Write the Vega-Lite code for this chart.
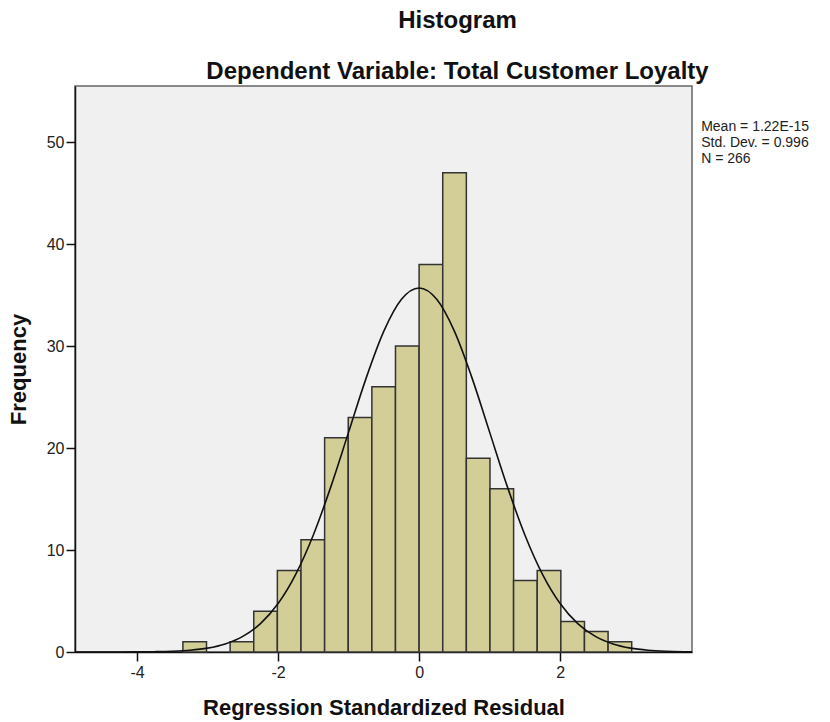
{
  "$schema": "https://vega.github.io/schema/vega-lite/v6.json",
  "autosize": "none",
  "width": 617,
  "height": 566,
  "padding": {"left": 75, "top": 86, "right": 138, "bottom": 70},
  "background": "white",
  "title": {
    "text": "Histogram",
    "subtitle": "Dependent Variable: Total Customer Loyalty",
    "anchor": "middle",
    "frame": "group",
    "dx": 74,
    "offset": 2,
    "font": "Liberation Sans",
    "fontSize": 24,
    "fontWeight": "bold",
    "color": "#111",
    "subtitleFont": "Liberation Sans",
    "subtitleFontSize": 24,
    "subtitleFontWeight": "bold",
    "subtitleColor": "#111",
    "subtitlePadding": 27
  },
  "config": {
    "view": {"fill": "#f0f0f0", "stroke": "#666", "strokeWidth": 1.5},
    "axis": {
      "grid": false,
      "labelFont": "Liberation Sans",
      "labelFontSize": 16,
      "labelColor": "#222",
      "titleFont": "Liberation Sans",
      "titleFontSize": 22,
      "titleFontWeight": "bold",
      "titleColor": "#111",
      "domainColor": "#111",
      "domainWidth": 1.5,
      "tickColor": "#111",
      "tickWidth": 1.5,
      "tickSize": 9
    }
  },
  "datasets": {
    "bins": [
      {"bin_start": -3.35, "bin_end": -3.015, "count": 1},
      {"bin_start": -2.68, "bin_end": -2.345, "count": 1},
      {"bin_start": -2.345, "bin_end": -2.01, "count": 4},
      {"bin_start": -2.01, "bin_end": -1.675, "count": 8},
      {"bin_start": -1.675, "bin_end": -1.34, "count": 11},
      {"bin_start": -1.34, "bin_end": -1.005, "count": 21},
      {"bin_start": -1.005, "bin_end": -0.67, "count": 23},
      {"bin_start": -0.67, "bin_end": -0.335, "count": 26},
      {"bin_start": -0.335, "bin_end": 0, "count": 30},
      {"bin_start": 0, "bin_end": 0.335, "count": 38},
      {"bin_start": 0.335, "bin_end": 0.67, "count": 47},
      {"bin_start": 0.67, "bin_end": 1.005, "count": 19},
      {"bin_start": 1.005, "bin_end": 1.34, "count": 16},
      {"bin_start": 1.34, "bin_end": 1.675, "count": 7},
      {"bin_start": 1.675, "bin_end": 2.01, "count": 8},
      {"bin_start": 2.01, "bin_end": 2.345, "count": 3},
      {"bin_start": 2.345, "bin_end": 2.68, "count": 2},
      {"bin_start": 2.68, "bin_end": 3.015, "count": 1}
    ],
    "curve": [
      {"x": -4.88, "y": 0.0002},
      {"x": -4.75, "y": 0.0004},
      {"x": -4.5, "y": 0.0013},
      {"x": -4.25, "y": 0.004},
      {"x": -4.0, "y": 0.011},
      {"x": -3.75, "y": 0.03},
      {"x": -3.5, "y": 0.074},
      {"x": -3.25, "y": 0.174},
      {"x": -3.0, "y": 0.382},
      {"x": -2.75, "y": 0.79},
      {"x": -2.5, "y": 1.53},
      {"x": -2.25, "y": 2.78},
      {"x": -2.0, "y": 4.75},
      {"x": -1.75, "y": 7.62},
      {"x": -1.5, "y": 11.48},
      {"x": -1.25, "y": 16.24},
      {"x": -1.0, "y": 21.56},
      {"x": -0.75, "y": 26.88},
      {"x": -0.5, "y": 31.46},
      {"x": -0.25, "y": 34.58},
      {"x": 0, "y": 35.69},
      {"x": 0.25, "y": 34.58},
      {"x": 0.5, "y": 31.46},
      {"x": 0.75, "y": 26.88},
      {"x": 1.0, "y": 21.56},
      {"x": 1.25, "y": 16.24},
      {"x": 1.5, "y": 11.48},
      {"x": 1.75, "y": 7.62},
      {"x": 2.0, "y": 4.75},
      {"x": 2.25, "y": 2.78},
      {"x": 2.5, "y": 1.53},
      {"x": 2.75, "y": 0.79},
      {"x": 3.0, "y": 0.382},
      {"x": 3.25, "y": 0.174},
      {"x": 3.5, "y": 0.074},
      {"x": 3.75, "y": 0.03},
      {"x": 3.87, "y": 0.019}
    ],
    "stats": [
      {"x": 4.0, "y": 51.08, "label": "Mean = 1.22E-15"},
      {"x": 4.0, "y": 49.51, "label": "Std. Dev. = 0.996"},
      {"x": 4.0, "y": 47.94, "label": "N = 266"}
    ]
  },
  "layer": [
    {
      "data": {"name": "bins"},
      "mark": {"type": "rect", "fill": "#d3ce98", "stroke": "#333", "strokeWidth": 1.5},
      "encoding": {
        "x": {
          "field": "bin_start",
          "type": "quantitative",
          "scale": {"domain": [-4.88, 3.87], "nice": false, "zero": false},
          "axis": {
            "values": [-4, -2, 0, 2],
            "labelExpr": "datum.value < 0 ? '-' + abs(datum.value) : '' + datum.value",
            "title": "Regression Standardized Residual",
            "titlePadding": 17,
            "labelPadding": 3
          }
        },
        "x2": {"field": "bin_end"},
        "y": {
          "field": "count",
          "type": "quantitative",
          "scale": {"domain": [0, 55.5], "nice": false},
          "axis": {"values": [0, 10, 20, 30, 40, 50], "title": "Frequency", "titlePadding": 16, "labelPadding": 2}
        }
      }
    },
    {
      "data": {"name": "curve"},
      "mark": {"type": "line", "color": "#111", "strokeWidth": 1.6, "interpolate": "monotone"},
      "encoding": {
        "x": {"field": "x", "type": "quantitative"},
        "y": {"field": "y", "type": "quantitative"}
      }
    },
    {
      "data": {"name": "stats"},
      "mark": {"type": "text", "align": "left", "baseline": "alphabetic", "font": "Liberation Sans", "fontSize": 14, "color": "#222"},
      "encoding": {
        "x": {"field": "x", "type": "quantitative"},
        "y": {"field": "y", "type": "quantitative"},
        "text": {"field": "label", "type": "nominal"}
      }
    }
  ]
}
